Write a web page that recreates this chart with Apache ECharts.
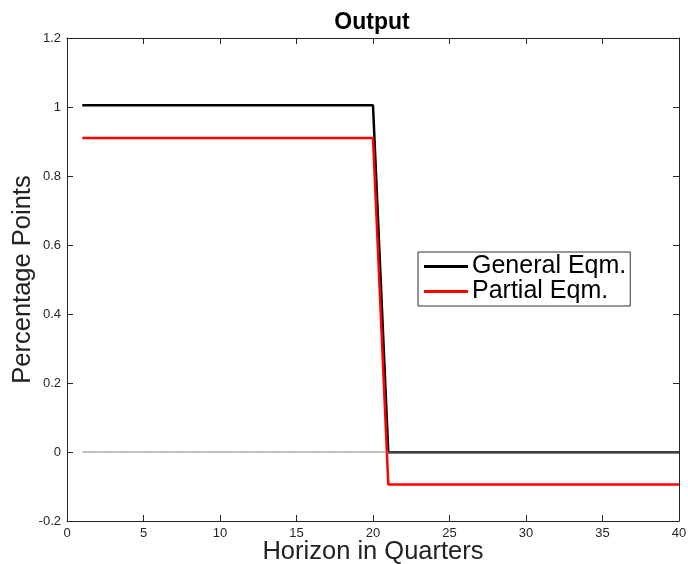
<!DOCTYPE html>
<html><head><meta charset="utf-8">
<script src="https://cdn.jsdelivr.net/npm/echarts@6/dist/echarts.min.js"></script>
<style>html,body{margin:0;padding:0;background:#fff}#c{width:688px;height:564px}</style>
</head><body><div id="c"></div>
<script>
const horizon = Array.from({length:40},(_,i)=>i+1);
const generalEqm = [1.005,1.005,1.005,1.005,1.005,1.005,1.005,1.005,1.005,1.005,1.005,1.005,1.005,1.005,1.005,1.005,1.005,1.005,1.005,1.005,
  -0.001,-0.001,-0.001,-0.001,-0.001,-0.001,-0.001,-0.001,-0.001,-0.001,-0.001,-0.001,-0.001,-0.001,-0.001,-0.001,-0.001,-0.001,-0.001,-0.001];
const partialEqm = [0.91,0.91,0.91,0.91,0.91,0.91,0.91,0.91,0.91,0.91,0.91,0.91,0.91,0.91,0.91,0.91,0.91,0.91,0.91,0.91,
  -0.094,-0.094,-0.094,-0.094,-0.094,-0.094,-0.094,-0.094,-0.094,-0.094,-0.094,-0.094,-0.094,-0.094,-0.094,-0.094,-0.094,-0.094,-0.094,-0.094];
const zeroLine = horizon.map(()=>0);

const chart = echarts.init(document.getElementById('c'), null, {renderer:'canvas'});
const font = 'Liberation Sans, Arial, Helvetica, sans-serif';
const axisLine = {show:true, onZero:false, lineStyle:{color:'#262626', width:1}};
const tick = {show:true, inside:true, length:6, lineStyle:{color:'#262626'}};
function xAx(pos, labels){
  return {type:'value', position:pos, min:0, max:40, interval:5,
    axisLine, axisTick:tick, splitLine:{show:false},
    axisLabel:{show:labels, color:'#262626', fontFamily:font, fontSize:13, margin:6},
    name: labels ? 'Horizon in Quarters' : '', nameLocation:'middle', nameGap:18, nameMoveOverlap:false,
    nameTextStyle:{color:'#222', fontFamily:font, fontSize:25.5}};
}
function yAx(pos, labels){
  return {type:'value', position:pos, min:-0.2, max:1.2, interval:0.2,
    axisLine, axisTick:tick, splitLine:{show:false},
    axisLabel:{show:labels, color:'#262626', fontFamily:font, fontSize:13, margin:6,
      formatter:v=>String(Math.round(v*10)/10)},
    name: labels ? 'Percentage Points' : '', nameLocation:'middle', nameGap:31, nameMoveOverlap:false,
    nameTextStyle:{color:'#222', fontFamily:font, fontSize:25.5}};
}
chart.setOption({
  animation:false,
  backgroundColor:'#fff',
  title:{text:'Output', left:367, textAlign:'center', top:6,
    textStyle:{fontFamily:font, fontSize:23, fontWeight:'bold', color:'#000'}},
  grid:{left:67, right:9, top:38, bottom:43, containLabel:false, outerBoundsMode:'none'},
  xAxis:[xAx('bottom', true), xAx('top', false)],
  yAxis:[yAx('left', true), yAx('right', false)],
  legend:{orient:'vertical', left:418, top:252,
    data:['General Eqm.','Partial Eqm.'],
    itemWidth:44, itemHeight:3, itemGap:0,
    borderColor:'#333', borderWidth:1, padding:[2,4,2,6],
    backgroundColor:'#fff',
    icon:'rect',
    textStyle:{fontFamily:font, fontSize:25, color:'#000', padding:[0,0,0,-1]}},
  series:[
    {name:'General Eqm.', type:'line', data:horizon.map((h,i)=>[h,generalEqm[i]]),
      showSymbol:false, lineStyle:{color:'#000', width:2.5}, itemStyle:{color:'#000'}},
    {name:'Partial Eqm.', type:'line', data:horizon.map((h,i)=>[h,partialEqm[i]]),
      showSymbol:false, lineStyle:{color:'#ff0000', width:2.5}, itemStyle:{color:'#ff0000'}},
    {name:'zero', type:'line', data:horizon.map((h,i)=>[h,zeroLine[i]]),
      showSymbol:false, lineStyle:{color:'#808080', width:1}, itemStyle:{color:'#808080'}}
  ]
});
</script></body></html>
